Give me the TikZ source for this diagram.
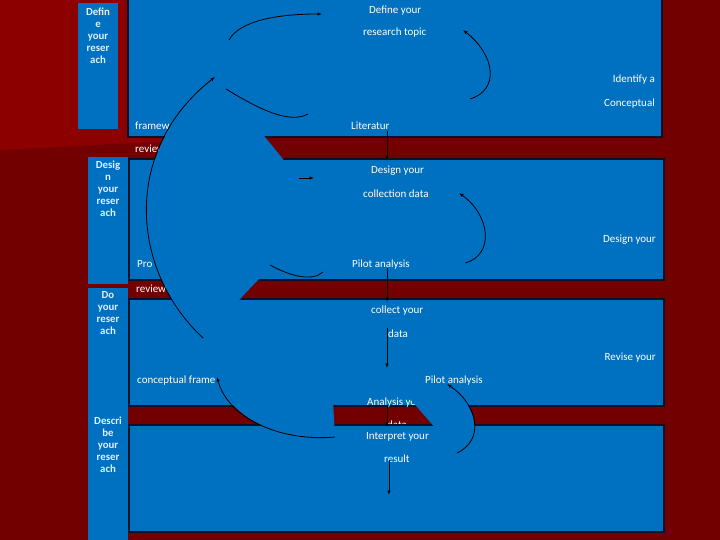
\documentclass[tikz,border=0pt]{standalone}
\usepackage{fontspec}
\setmainfont{Carlito}
\usetikzlibrary{arrows.meta}
\definecolor{bgdark}{RGB}{115,0,0}
\definecolor{bglight}{RGB}{140,0,0}
\definecolor{pblue}{RGB}{0,112,192}
\definecolor{pline}{RGB}{12,16,40}
\definecolor{bartext}{RGB}{225,240,255}
\begin{document}
\begin{tikzpicture}[x=1pt,y=-1pt,
  panel/.style={fill=pblue,draw=pline,line width=1.3pt},
  sidebar/.style={fill=pblue},
  bartxt/.style={text=bartext,font=\bfseries\fontsize{10.8}{12}\selectfont,align=center,inner sep=0pt,anchor=north},
  txt/.style={text=white,font=\fontsize{11}{13}\selectfont,inner sep=0pt},
  lefttxt/.style={txt,anchor=base west},
  righttxt/.style={txt,anchor=base east},
  blob/.style={fill=pblue},
  curve/.style={draw=black,line width=0.8pt},
  conn/.style={curve,-{Latex[length=4.5pt,width=3.5pt]}}]
\useasboundingbox (0,0) rectangle (720,540);
% background
\fill[bgdark] (0,0) rectangle (720,540);
\fill[bglight] (0,0) -- (400,0) -- (400,129) -- (0,150) -- cycle;
% side bars
\fill[sidebar] (78,3) rectangle (118,129);
\fill[sidebar] (88,157) rectangle (128,284);
\fill[sidebar] (88,288) rectangle (128,415);
\fill[sidebar] (88,415) rectangle (128,541);
\node[bartxt] (b1) at (98,8) {Defin\\e\\your\\reser\\ach};
\node[bartxt] (b2) at (108,161) {Desig\\n\\your\\reser\\ach};
\node[bartxt] (b3) at (108,291) {Do\\your\\reser\\ach};
\node[bartxt] (b4) at (108,417) {Descri\\be\\your\\reser\\ach};
% panels
\draw[panel] (128,-2) rectangle (662,137);
\draw[panel] (129,159) rectangle (664,280);
\draw[panel] (129,299) rectangle (664,406);
\node[lefttxt] (dhid) at (387,428.5) {data};
\draw[panel] (129,425) rectangle (664,532);
% texts partly covered
\node[lefttxt] (fw) at (135,130) {framew};
\node[lefttxt] (rv1) at (135,153) {review};
\node[lefttxt] (pro) at (137,267) {Pro};
\node[lefttxt] (cf) at (137,383) {conceptual frame};
\node[lefttxt] (ay) at (367,405.5) {Analysis yo};
% blue blob pieces
\fill[blob] (215,77) -- (226,89) -- (265,137) -- (283,159) -- (292,210) -- (270,265) -- (258,280) -- (240,299) -- (203,338) .. controls (130,270) and (122,150) .. (215,77) -- cycle;
\fill[blob] (217,377) .. controls (228,418) and (280,442) .. (335,437) -- (333,400) -- (250,360) -- cycle;
\fill[blob] (404,392) -- (457,453) .. controls (485,440) and (478,405) .. (447,384) -- cycle;
% remaining texts
\node[lefttxt] (t1) at (369,13.5) {Define your};
\node[lefttxt] (t2) at (363,36) {research topic};
\node[righttxt] (t3) at (655,83) {Identify a};
\node[righttxt] (t4) at (655,106.5) {Conceptual};
\node[lefttxt] (lit) at (351,130) {Literatur};
\node[lefttxt] (rv2) at (136,292.5) {review};
\node[lefttxt] (t5) at (371,174) {Design your};
\node[lefttxt] (t6) at (363,197) {collection data};
\node[righttxt] (t7) at (656,243) {Design your};
\node[lefttxt] (pa1) at (352,267) {Pilot analysis};
\node[lefttxt] (t8) at (371,313) {collect your};
\node[lefttxt] (dat) at (388,337) {data};
\node[righttxt] (t9) at (656,360) {Revise your};
\node[lefttxt] (pa2) at (425,383.5) {Pilot analysis};
\node[lefttxt] (t10) at (366,439) {Interpret your};
\node[lefttxt] (res) at (384,462) {result};
% connector end points
\coordinate (l1a) at (387,131); \coordinate (l1b) at (387,161);
\coordinate (l2a) at (387,268); \coordinate (l2b) at (387,302);
\coordinate (l3a) at (387,328); \coordinate (l3b) at (387,368);
\coordinate (l4a) at (387,405); \coordinate (l4b) at (387,427);
\coordinate (l5a) at (389,460); \coordinate (l5b) at (389,495);
\coordinate (s1a) at (299,178); \coordinate (s1b) at (314,178);
\draw[conn] (l1a) -- (l1b);
\draw[conn] (l2a) -- (l2b);
\draw[conn] (l3a) -- (l3b);
\draw[conn] (l4a) -- (l4b);
\draw[conn] (l5a) -- (l5b);
\draw[conn] (s1a) -- (s1b);
% curves
\coordinate (ca) at (229,40); \coordinate (cb) at (322,14);
\draw[conn] (ca) .. controls (240,20) and (280,14) .. (cb);
\coordinate (cc) at (470,99); \coordinate (cd) at (463,30);
\draw[conn] (cc) .. controls (500,90) and (495,55) .. (cd);
\coordinate (ce) at (226,89); \coordinate (cf2) at (308,114);
\draw[curve] (ce) .. controls (260,110) and (290,124) .. (cf2);
\coordinate (cg) at (203,338); \coordinate (ch) at (215,77);
\draw[conn] (cg) .. controls (130,270) and (122,150) .. (ch);
\coordinate (ci) at (270,265); \coordinate (cj) at (323,272);
\draw[curve] (ci) .. controls (290,276) and (312,282) .. (cj);
\coordinate (ck) at (465,263); \coordinate (cl) at (459,193);
\draw[conn] (ck) .. controls (495,255) and (490,215) .. (cl);
\coordinate (cm) at (335,437); \coordinate (cn) at (217,377);
\draw[conn] (cm) .. controls (280,442) and (228,418) .. (cn);
\coordinate (co) at (457,453); \coordinate (cp) at (447,384);
\draw[conn] (co) .. controls (485,440) and (478,405) .. (cp);
\end{tikzpicture}
\end{document}
